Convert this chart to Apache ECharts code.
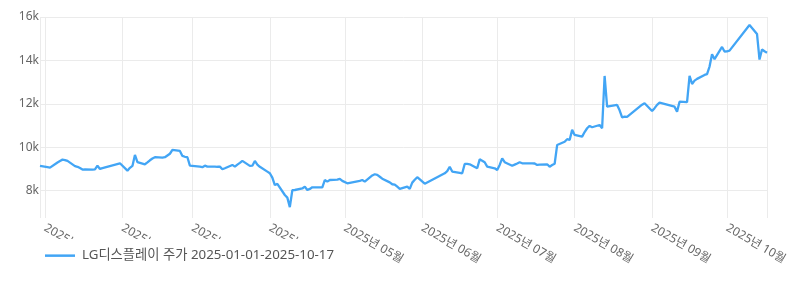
<!DOCTYPE html>
<html>
<head>
<meta charset="utf-8">
<script src="https://cdn.jsdelivr.net/npm/echarts@6/dist/echarts.min.js"></script>
<style>
html,body{margin:0;padding:0;background:#fff;}
#c{width:800px;height:287px;}
</style>
</head>
<body>
<div id="c"></div>
<script>
const seriesName = 'LG디스플레이 주가 2025-01-01-2025-10-17';

const dates = [
'2024-12-30','2025-01-02','2025-01-03','2025-01-06','2025-01-07','2025-01-08','2025-01-09','2025-01-10',
'2025-01-13','2025-01-14','2025-01-15','2025-01-16','2025-01-17','2025-01-20','2025-01-21','2025-01-22',
'2025-01-23','2025-01-24','2025-01-31','2025-02-03','2025-02-04','2025-02-05','2025-02-06','2025-02-07',
'2025-02-10','2025-02-11','2025-02-12','2025-02-13','2025-02-14','2025-02-17','2025-02-18','2025-02-19',
'2025-02-20','2025-02-21','2025-02-24','2025-02-25','2025-02-26','2025-02-27','2025-02-28','2025-03-04',
'2025-03-05','2025-03-06','2025-03-07','2025-03-10','2025-03-11','2025-03-12','2025-03-13','2025-03-14',
'2025-03-17','2025-03-18','2025-03-19','2025-03-20','2025-03-21','2025-03-24','2025-03-25','2025-03-26',
'2025-03-27','2025-03-28','2025-03-31','2025-04-01','2025-04-02','2025-04-03','2025-04-04','2025-04-07',
'2025-04-08','2025-04-09','2025-04-10','2025-04-11','2025-04-14','2025-04-15','2025-04-16','2025-04-17',
'2025-04-18','2025-04-21','2025-04-22','2025-04-23','2025-04-24','2025-04-25','2025-04-28','2025-04-29',
'2025-04-30','2025-05-02','2025-05-07','2025-05-08','2025-05-09','2025-05-12','2025-05-13','2025-05-14',
'2025-05-15','2025-05-16','2025-05-19','2025-05-20','2025-05-21','2025-05-22','2025-05-23','2025-05-26',
'2025-05-27','2025-05-28','2025-05-29','2025-05-30','2025-06-02','2025-06-10','2025-06-11','2025-06-12',
'2025-06-13','2025-06-16','2025-06-17','2025-06-18','2025-06-19','2025-06-20','2025-06-23','2025-06-24',
'2025-06-25','2025-06-26','2025-06-27','2025-06-30','2025-07-01','2025-07-02','2025-07-03','2025-07-04',
'2025-07-07','2025-07-08','2025-07-09','2025-07-10','2025-07-11','2025-07-14','2025-07-15','2025-07-16',
'2025-07-17','2025-07-18','2025-07-21','2025-07-22','2025-07-23','2025-07-24','2025-07-25','2025-07-28',
'2025-07-29','2025-07-30','2025-07-31','2025-08-01','2025-08-04','2025-08-05','2025-08-06','2025-08-07',
'2025-08-08','2025-08-11','2025-08-12','2025-08-13','2025-08-14','2025-08-18','2025-08-19','2025-08-20',
'2025-08-21','2025-08-22','2025-08-28','2025-08-29','2025-09-01','2025-09-02','2025-09-03','2025-09-04',
'2025-09-10','2025-09-11','2025-09-12','2025-09-15','2025-09-16','2025-09-17','2025-09-18','2025-09-19',
'2025-09-22','2025-09-23','2025-09-24','2025-09-25','2025-09-26','2025-09-29','2025-09-30','2025-10-01',
'2025-10-02','2025-10-10','2025-10-13','2025-10-14','2025-10-15','2025-10-16','2025-10-17'
];

const prices = [
9140,9080,9060,9300,9370,9430,9410,9370,
9130,9100,9040,8970,8975,8970,8980,9150,
9000,9040,9260,8920,9050,9140,9645,9310,
9215,9300,9400,9480,9540,9520,9540,9620,
9700,9875,9830,9600,9560,9540,9150,9105,
9080,9150,9105,9110,9100,9105,8985,9030,
9185,9105,9200,9280,9370,9140,9150,9370,
9200,9100,8875,8800,8600,8260,8310,7800,
7680,7240,8020,8030,8100,8185,8030,8080,
8155,8155,8155,8490,8415,8490,8510,8540,
8450,8340,8450,8490,8415,8700,8755,8725,
8640,8550,8380,8295,8280,8180,8080,8185,
8080,8370,8500,8620,8320,8800,8900,9100,
8880,8820,8800,9230,9230,9215,9030,9440,
9380,9310,9105,9030,8955,9185,9490,9310,
9150,9200,9250,9310,9260,9260,9260,9250,
9185,9200,9215,9105,9180,9240,10100,10250,
10370,10335,10800,10565,10490,10700,10875,10980,
10920,11025,10875,13285,11870,11950,11700,11380,
11410,11400,11960,12030,11670,11800,11950,12055,
11870,11640,12100,12075,13285,12915,13070,13150,
13330,13365,13715,14285,14055,14620,14410,14420,
14450,15635,15220,14040,14500,14420,14350
];

const yMin = 6740;
const yMax = 16000;

const FONT = '"Noto Sans", "Noto Sans CJK KR", sans-serif';
const LINE_COLOR = '#42a5f5';
const chart = echarts.init(document.getElementById('c'), null, {renderer: 'canvas'});
chart.setOption({
  animation: false,
  backgroundColor: '#fff',
  textStyle: {fontFamily: FONT},
  grid: {left: 40, right: 33, top: 17, bottom: 69, containLabel: false, outerBoundsMode: 'none'},
  legend: {
    data: [{name: seriesName, icon: 'rect'}],
    left: 40,
    top: 239,
    padding: [10, 5, 6, 5],
    backgroundColor: '#fff',
    itemWidth: 30,
    itemHeight: 2.5,
    itemGap: 10,
    textStyle: {fontSize: 13.3, color: '#555', fontFamily: FONT, padding: [0, 0, 0, 2]}
  },
  xAxis: {
    type: 'time',
    min: 'dataMin',
    max: 'dataMax',
    axisLine: {show: false},
    axisTick: {show: false},
    splitLine: {show: true, lineStyle: {color: '#ebebeb', width: 1}},
    axisLabel: {
      rotate: -30,
      formatter: '{yyyy}년 {MM}월',
      color: '#666',
      fontSize: 12,
      margin: 9,
      hideOverlap: false,
      fontFamily: FONT
    }
  },
  yAxis: {
    type: 'value',
    min: yMin,
    max: yMax,
    axisLine: {show: false},
    axisTick: {show: false},
    splitLine: {show: true, showMinLine: false, lineStyle: {color: '#ebebeb', width: 1}},
    axisLabel: {
      formatter: v => (v / 1000) + 'k',
      showMinLabel: false,
      color: '#666',
      fontSize: 12,
      margin: 1,
      fontFamily: FONT
    }
  },
  series: [{
    type: 'line',
    name: seriesName,
    data: dates.map((d, i) => [d, prices[i]]),
    symbol: 'none',
    showSymbol: false,
    lineStyle: {width: 2.3, color: LINE_COLOR},
    itemStyle: {color: LINE_COLOR}
  }]
});
</script>
</body>
</html>
